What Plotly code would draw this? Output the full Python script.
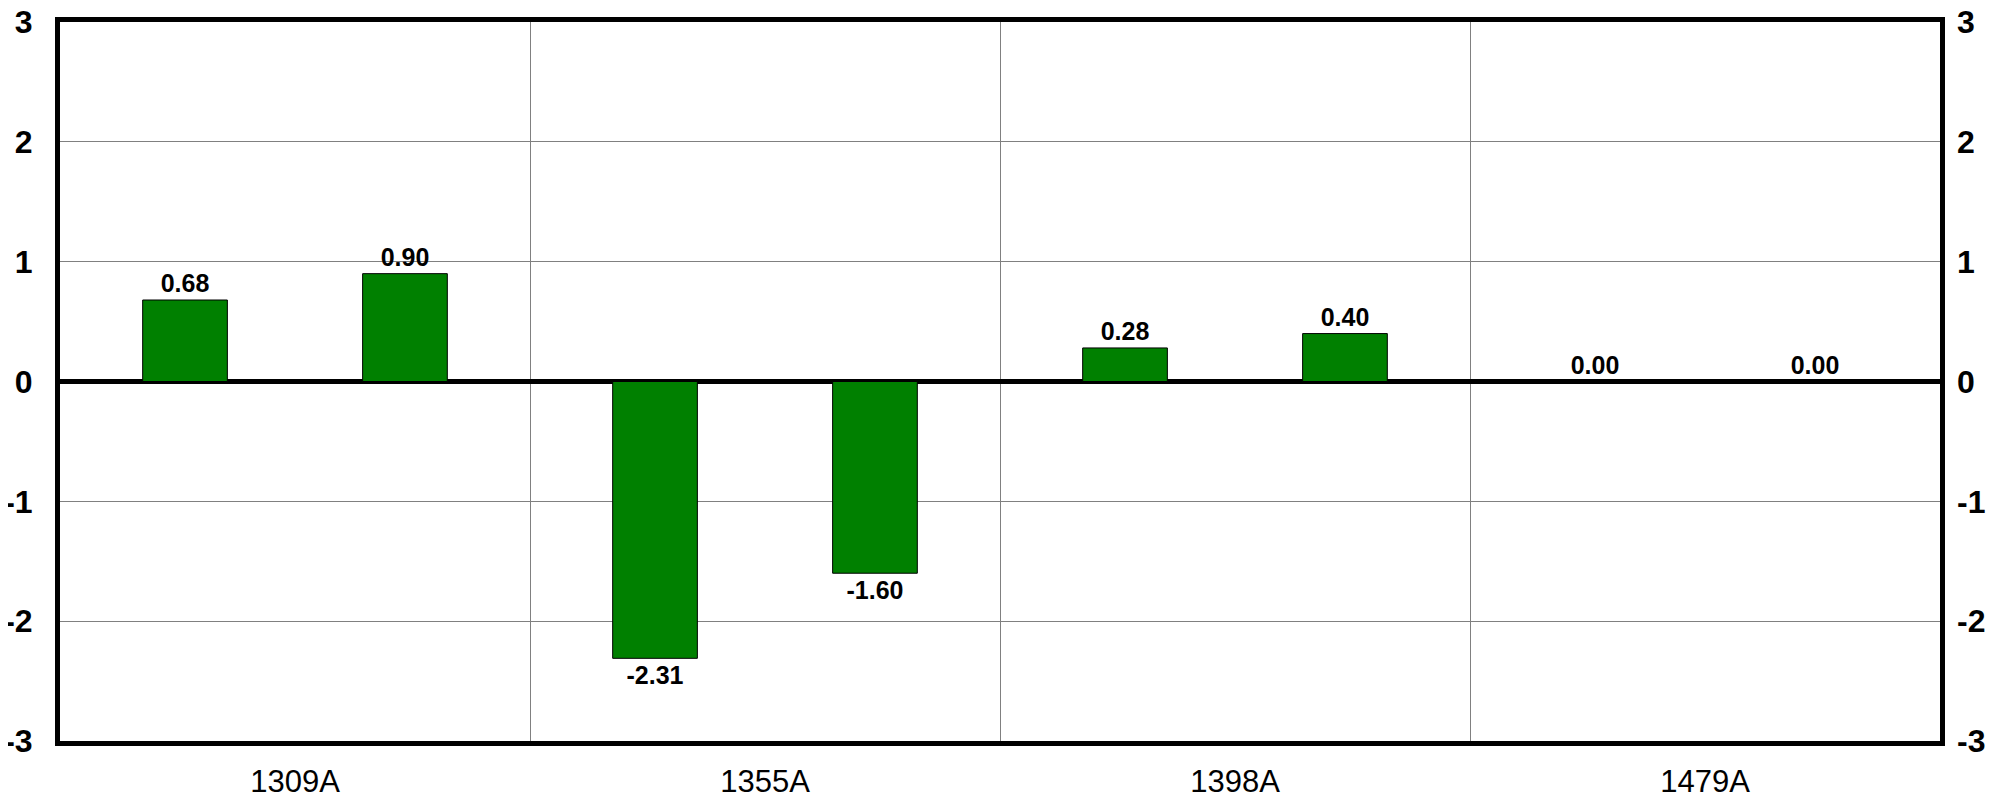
import plotly.graph_objects as go

categories = ["1309A", "1355A", "1398A", "1479A"]
series_a = [0.68, -2.31, 0.28, 0.00]
series_b = [0.90, -1.60, 0.40, 0.00]
y_ticks = [-3, -2, -1, 0, 1, 2, 3]
y_tick_labels = ["-3", "-2", "-1", "0", "1", "2", "3"]

bar_color = "#008000"
font_family = "Liberation Sans, Arial, sans-serif"

fig = go.Figure()
for name, vals in [("A", series_a), ("B", series_b)]:
    fig.add_trace(go.Bar(
        x=categories, y=vals, name=name,
        marker=dict(color=bar_color, line=dict(color="#000000", width=1)),
        texttemplate="%{y:.2f}", textposition="outside",
        textfont=dict(family=font_family, size=25, color="#000000", weight="bold"),
        cliponaxis=False,
    ))

# invisible helper trace so the right-hand value axis is drawn
fig.add_trace(go.Scatter(
    x=categories, y=series_a, yaxis="y2", mode="none",
    hoverinfo="skip", showlegend=False,
))

tick_font = dict(family=font_family, size=32, color="#000000", weight="bold")

fig.update_layout(
    width=1991, height=785,
    margin=dict(l=52, r=59, t=14, b=52),
    paper_bgcolor="white", plot_bgcolor="white",
    showlegend=False,
    barmode="group", bargap=0.064, bargroupgap=0.615,
    font=dict(family=font_family, color="#000000"),
    xaxis=dict(
        type="category", tickson="boundaries", ticks="",
        showgrid=True, gridcolor="#808080", gridwidth=1,
        showline=True, linecolor="#000000", linewidth=5, mirror=True,
        tickfont=dict(family=font_family, size=31, color="#000000"),
        ticklabelstandoff=9, automargin=False, ticklabeloverflow="allow",
    ),
    yaxis=dict(
        range=[-3, 3], tickvals=y_ticks, ticktext=y_tick_labels,
        showgrid=True, gridcolor="#808080", gridwidth=1,
        zeroline=True, zerolinecolor="#000000", zerolinewidth=5,
        showline=True, linecolor="#000000", linewidth=5, mirror=True,
        tickfont=tick_font, ticks="", ticklabelstandoff=16, automargin=False,
        ticklabeloverflow="allow",
    ),
    yaxis2=dict(
        range=[-3, 3], tickvals=y_ticks, ticktext=y_tick_labels,
        overlaying="y", side="right",
        showgrid=False, zeroline=False, showline=False,
        tickfont=tick_font, ticks="", ticklabelstandoff=16, automargin=False,
        ticklabeloverflow="allow",
    ),
)

fig.write_html("out.html")
